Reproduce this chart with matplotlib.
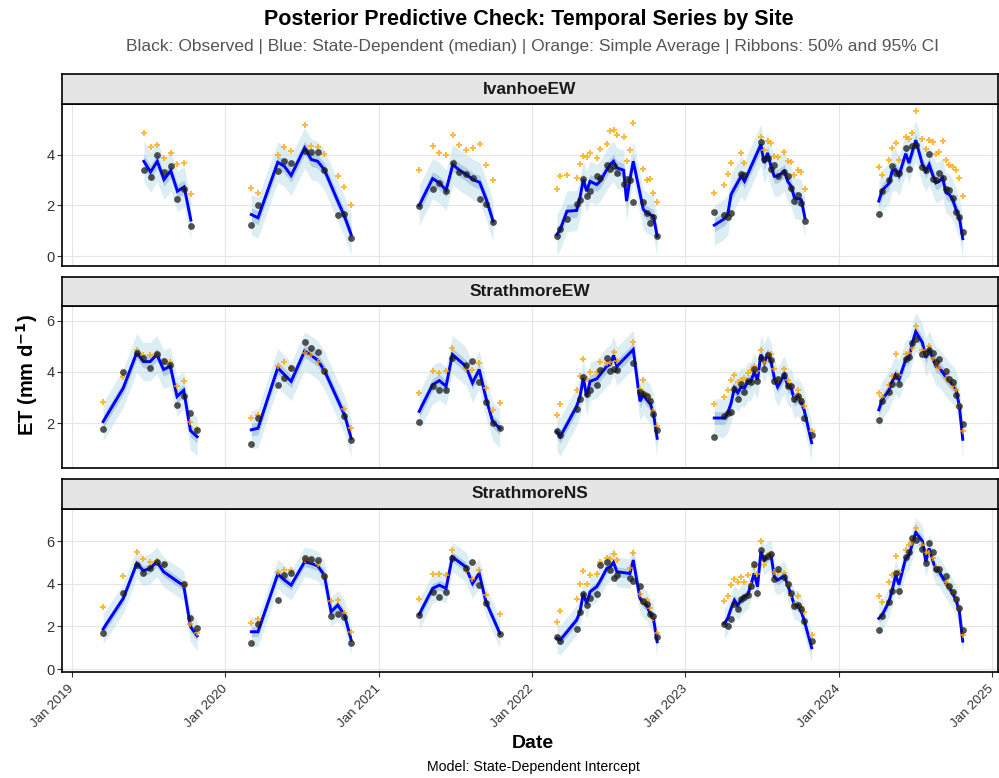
import matplotlib
matplotlib.use('Agg')
import matplotlib.pyplot as plt
import matplotlib.dates as mdates
import pandas as pd
import numpy as np

plt.rcParams['font.family'] = ['Liberation Sans', 'DejaVu Sans']

# ---------------- data ----------------
sites = ['IvanhoeEW', 'StrathmoreEW', 'StrathmoreNS']

ivanhoe_dates = [
    '2019-172', '2019-188', '2019-204', '2019-220', '2019-236', '2019-252', '2019-268', '2019-284',
    '2020-063', '2020-079', '2020-126', '2020-142', '2020-158', '2020-190', '2020-206', '2020-221',
    '2020-237', '2020-269', '2020-285', '2020-301',
    '2021-097', '2021-129', '2021-145', '2021-161', '2021-177', '2021-193', '2021-209', '2021-225',
    '2021-241', '2021-257', '2021-273',
    '2022-060', '2022-068', '2022-084', '2022-107', '2022-115', '2022-123', '2022-131', '2022-139',
    '2022-155', '2022-163', '2022-179', '2022-187', '2022-195', '2022-203', '2022-219', '2022-226',
    '2022-234', '2022-242', '2022-266', '2022-274', '2022-282', '2022-290', '2022-299',
    '2023-070', '2023-094', '2023-102', '2023-110', '2023-134', '2023-142', '2023-181', '2023-189',
    '2023-197', '2023-205', '2023-213', '2023-221', '2023-237', '2023-245', '2023-253', '2023-261',
    '2023-269', '2023-277', '2023-286',
    '2024-097', '2024-105', '2024-121', '2024-129', '2024-137', '2024-145', '2024-161', '2024-169',
    '2024-177', '2024-185', '2024-201', '2024-209', '2024-217', '2024-225', '2024-233', '2024-241',
    '2024-249', '2024-257', '2024-265', '2024-273', '2024-281', '2024-289', '2024-297']
ivanhoe_obs = [
    3.39, 3.11, 4.00, 3.33, 3.57, 2.26, 2.63, 1.17,
    1.21, 2.01, 3.36, 3.74, 3.69, 4.13, 4.11, 4.11, 3.40, 1.63, 1.65, 0.72,
    1.96, 2.63, 2.87, 2.55, 3.68, 3.31, 3.22, 3.10, 2.24, 2.04, 1.34,
    0.81, 1.05, 1.46, 2.05, 2.20, 3.03, 2.38, 2.57, 3.17, 3.09, 3.60, 3.44, 3.54, 3.27, 2.85, 3.06,
    2.99, 2.15, 2.15, 1.69, 1.31, 1.55, 0.79,
    1.73, 1.63, 1.54, 1.72, 3.22, 3.18, 4.52, 3.85, 3.86, 3.43, 3.61, 3.15, 3.33, 3.17, 2.67, 2.17,
    2.42, 2.10, 1.37,
    1.67, 2.56, 2.99, 3.56, 3.26, 3.26, 4.27, 3.43, 4.36, 4.38, 3.53, 3.40, 4.03, 3.05, 3.02, 3.26,
    3.07, 2.65, 2.60, 2.30, 1.75, 1.54, 0.94]
ivanhoe_median = [
    3.74, 3.32, 3.74, 3.02, 3.37, 2.56, 2.73, 1.42,
    1.64, 1.51, 3.70, 3.54, 3.18, 4.27, 3.81, 3.74, 3.41, 2.17, 1.57, 0.85,
    2.00, 3.06, 2.89, 2.60, 3.61, 3.39, 3.22, 3.02, 2.91, 2.23, 1.38,
    0.85, 1.05, 1.77, 1.80, 2.30, 3.02, 2.56, 2.95, 2.82, 2.95, 3.41, 3.61, 3.74, 3.48, 3.39, 2.17,
    3.02, 3.74, 1.84, 1.71, 1.64, 1.57, 0.79,
    1.22, 1.47, 1.64, 2.43, 3.15, 2.95, 4.40, 3.67, 4.07, 3.54, 3.15, 3.15, 3.35, 2.95, 2.76, 2.30,
    2.26, 2.23, 1.51,
    2.17, 2.60, 2.86, 3.37, 3.41, 3.18, 4.04, 3.67, 4.13, 4.57, 3.61, 3.35, 3.61, 3.22, 2.89, 2.95,
    3.09, 2.50, 2.43, 2.23, 1.84, 1.51, 0.69]
ivanhoe_simple = [
    4.87, 4.29, 4.40, 3.86, 4.07, 3.62, 3.69, 2.44,
    2.67, 2.47, 3.99, 4.29, 4.16, 5.17, 4.33, 4.29, 4.02, 3.15, 2.73, 2.00,
    3.40, 4.33, 4.06, 4.00, 4.78, 4.40, 4.19, 4.28, 4.42, 3.60, 2.99,
    2.64, 3.17, 3.20, 3.09, 3.62, 3.96, 3.90, 4.07, 3.86, 4.21, 4.42, 4.92, 4.96, 4.79, 4.69, 3.77,
    4.17, 5.26, 3.44, 3.02, 3.06, 2.50, 2.13,
    2.48, 2.81, 3.22, 3.67, 4.07, 3.67, 4.70, 4.20, 4.56, 4.46, 3.96, 3.91, 4.11, 3.74, 3.72, 3.21,
    3.39, 3.30, 2.65,
    3.50, 3.18, 3.81, 4.27, 4.46, 3.81, 4.69, 4.62, 4.86, 5.71, 4.63, 4.24, 4.59, 4.49, 4.03, 4.10,
    4.53, 3.81, 3.61, 3.50, 3.41, 3.07, 2.39]

strath_ew_dates = [
    '2019-075', '2019-123', '2019-155', '2019-171', '2019-187', '2019-203', '2019-219', '2019-235',
    '2019-251', '2019-267', '2019-283', '2019-299',
    '2020-063', '2020-079', '2020-126', '2020-142', '2020-158', '2020-190', '2020-206', '2020-221',
    '2020-237', '2020-285', '2020-301',
    '2021-097', '2021-129', '2021-145', '2021-161', '2021-176', '2021-208', '2021-224', '2021-240',
    '2021-256', '2021-272', '2021-289',
    '2022-060', '2022-068', '2022-107', '2022-115', '2022-123', '2022-131', '2022-139', '2022-155',
    '2022-163', '2022-179', '2022-187', '2022-195', '2022-203', '2022-242', '2022-258', '2022-266',
    '2022-274', '2022-282', '2022-290', '2022-299',
    '2023-070', '2023-094', '2023-102', '2023-110', '2023-118', '2023-126', '2023-134', '2023-142',
    '2023-150', '2023-157', '2023-165', '2023-173', '2023-181', '2023-189', '2023-197', '2023-205',
    '2023-213', '2023-221', '2023-237', '2023-245', '2023-253', '2023-261', '2023-269', '2023-276',
    '2023-284', '2023-302',
    '2024-097', '2024-105', '2024-121', '2024-129', '2024-137', '2024-145', '2024-161', '2024-169',
    '2024-177', '2024-185', '2024-201', '2024-209', '2024-217', '2024-225', '2024-233', '2024-241',
    '2024-257', '2024-265', '2024-273', '2024-281', '2024-289', '2024-297']
strath_ew_obs = [
    1.76, 4.00, 4.75, 4.55, 4.14, 4.71, 4.42, 4.25, 2.69, 3.04, 2.39, 1.74,
    1.18, 2.20, 3.49, 3.75, 4.17, 5.16, 4.95, 4.78, 4.02, 2.26, 1.35,
    2.05, 3.46, 3.29, 3.31, 4.55, 4.27, 4.42, 3.61, 2.81, 2.00, 1.82,
    1.71, 1.54, 2.57, 2.94, 3.79, 3.12, 3.31, 3.50, 4.08, 4.55, 4.02, 4.12, 4.06, 4.35, 3.20, 3.14,
    3.04, 2.87, 2.36, 1.74,
    1.44, 2.26, 2.39, 2.44, 3.33, 2.94, 3.54, 3.20, 3.66, 3.62, 4.12, 3.63, 4.55, 4.13, 4.67, 4.48,
    3.66, 3.73, 3.89, 3.46, 3.46, 2.94, 3.07, 2.87, 2.22, 1.54,
    2.14, 2.86, 3.23, 3.54, 3.84, 3.53, 4.52, 4.59, 5.12, 5.27, 4.68, 4.72, 4.87, 4.75, 4.38, 4.51,
    4.02, 3.73, 3.61, 3.11, 2.65, 1.97]
strath_ew_median = [
    2.06, 3.37, 4.75, 4.40, 4.40, 4.68, 4.09, 4.22, 3.04, 3.28, 1.71, 1.47,
    1.74, 1.80, 4.16, 3.89, 3.63, 4.81, 4.64, 4.46, 4.06, 2.33, 1.41,
    2.46, 3.50, 3.66, 3.44, 4.68, 4.22, 3.57, 4.09, 2.98, 2.06, 1.80,
    1.67, 1.47, 2.65, 3.04, 3.76, 3.04, 3.63, 3.73, 3.89, 4.22, 4.29, 4.64, 4.22, 4.87, 2.85, 3.11,
    2.91, 2.78, 2.39, 1.41,
    2.20, 2.20, 2.39, 2.78, 3.37, 3.18, 3.41, 3.37, 3.63, 3.63, 3.98, 3.70, 4.68, 4.35, 4.68, 4.42,
    3.76, 3.41, 3.89, 3.44, 3.37, 2.91, 3.04, 2.85, 2.52, 1.24,
    2.52, 2.91, 3.28, 3.63, 3.89, 3.70, 4.48, 4.55, 5.14, 5.57, 5.14, 4.55, 4.87, 4.55, 4.22, 4.16,
    3.80, 3.63, 3.50, 3.31, 2.65, 1.37]
strath_ew_simple = [
    2.81, 3.79, 4.85, 4.67, 4.65, 4.71, 4.44, 4.39, 3.44, 3.65, 2.04, 1.76,
    2.20, 2.33, 4.22, 4.38, 4.16, 4.75, 4.64, 4.38, 4.06, 2.56, 1.82,
    3.19, 4.02, 3.97, 4.02, 4.94, 4.12, 4.08, 4.35, 3.38, 2.52, 2.77,
    2.30, 2.75, 3.31, 3.85, 4.49, 3.73, 3.98, 4.01, 4.38, 4.36, 4.40, 4.77, 4.42, 5.18, 3.35, 3.67,
    3.10, 2.95, 2.46, 1.90,
    2.76, 3.03, 3.29, 3.70, 3.88, 3.59, 3.70, 3.76, 3.96, 4.09, 4.22, 4.02, 4.87, 4.40, 4.71, 4.68,
    4.13, 3.70, 4.13, 3.69, 3.50, 2.98, 3.31, 2.95, 2.68, 1.71,
    3.18, 3.01, 3.50, 3.83, 4.68, 3.89, 4.68, 4.75, 4.94, 5.79, 4.84, 4.75, 5.01, 4.55, 4.29, 4.16,
    3.76, 3.63, 3.44, 3.28, 2.68, 1.71]

strath_ns_dates = [
    '2019-075', '2019-123', '2019-155', '2019-171', '2019-187', '2019-203', '2019-219', '2019-267',
    '2019-283', '2019-299',
    '2020-063', '2020-079', '2020-126', '2020-142', '2020-158', '2020-190', '2020-206', '2020-221',
    '2020-237', '2020-253', '2020-269', '2020-285', '2020-301',
    '2021-097', '2021-129', '2021-145', '2021-161', '2021-176', '2021-208', '2021-224', '2021-240',
    '2021-256', '2021-289',
    '2022-060', '2022-068', '2022-107', '2022-115', '2022-123', '2022-131', '2022-139', '2022-155',
    '2022-163', '2022-179', '2022-187', '2022-195', '2022-203', '2022-234', '2022-242', '2022-258',
    '2022-266', '2022-274', '2022-282', '2022-290', '2022-299',
    '2023-094', '2023-102', '2023-110', '2023-118', '2023-126', '2023-134', '2023-142', '2023-150',
    '2023-157', '2023-165', '2023-173', '2023-181', '2023-189', '2023-197', '2023-205', '2023-213',
    '2023-221', '2023-237', '2023-245', '2023-253', '2023-261', '2023-269', '2023-276', '2023-284',
    '2023-302',
    '2024-097', '2024-105', '2024-121', '2024-129', '2024-137', '2024-145', '2024-161', '2024-169',
    '2024-177', '2024-185', '2024-201', '2024-209', '2024-217', '2024-225', '2024-233', '2024-241',
    '2024-257', '2024-265', '2024-273', '2024-281', '2024-289', '2024-297']
strath_ns_obs = [
    1.67, 3.55, 4.88, 4.52, 4.76, 5.04, 4.93, 3.99, 2.41, 1.91,
    1.20, 2.13, 3.25, 4.41, 4.51, 5.24, 5.16, 5.12, 4.37, 2.49, 2.58, 2.46, 1.20,
    2.54, 3.60, 3.38, 3.62, 5.23, 4.77, 5.02, 3.96, 3.08, 1.63,
    1.52, 1.31, 1.86, 2.68, 3.51, 3.00, 3.32, 3.51, 4.87, 5.01, 4.63, 4.26, 4.40, 4.26, 4.13, 3.88,
    3.21, 3.04, 2.58, 2.47, 1.52,
    2.10, 2.02, 2.33, 3.04, 2.80, 3.27, 3.40, 3.46, 3.90, 4.95, 3.58, 5.59, 5.20, 5.31, 5.41, 4.21,
    4.68, 4.34, 3.99, 3.55, 2.97, 3.00, 2.80, 2.28, 1.31,
    1.83, 2.49, 3.13, 3.68, 4.49, 3.68, 5.26, 5.51, 6.15, 6.07, 5.62, 4.96, 5.90, 5.48, 4.68, 4.68,
    4.37, 3.91, 3.63, 3.27, 2.88, 1.83]
strath_ns_median = [
    1.88, 3.32, 4.96, 4.62, 4.73, 5.04, 4.57, 3.91, 1.99, 1.56,
    1.75, 1.75, 4.46, 4.18, 3.94, 5.04, 4.96, 4.85, 4.41, 2.69, 3.00, 2.54, 1.36,
    2.57, 3.79, 3.94, 3.79, 5.27, 4.80, 4.02, 4.49, 3.16, 1.68,
    1.44, 1.36, 2.30, 2.69, 3.55, 3.08, 3.63, 3.87, 4.13, 4.73, 4.80, 5.01, 4.57, 4.49, 5.12, 3.32,
    3.08, 3.00, 2.61, 2.38, 1.28,
    2.14, 2.38, 2.85, 3.24, 3.00, 3.24, 3.40, 3.51, 3.94, 4.49, 3.87, 5.51, 5.12, 5.27, 5.38, 4.34,
    4.18, 4.38, 3.94, 3.47, 3.00, 3.00, 2.77, 2.30, 1.00,
    2.38, 2.54, 3.16, 3.71, 4.41, 3.97, 5.20, 5.35, 5.90, 6.42, 6.01, 5.04, 5.67, 5.12, 4.65, 4.57,
    4.02, 3.79, 3.55, 3.24, 2.69, 1.31]
strath_ns_simple = [
    2.90, 4.35, 5.48, 5.16, 5.04, 5.07, 4.88, 3.97, 2.10, 1.70,
    2.17, 2.35, 4.57, 4.65, 4.65, 5.12, 5.12, 4.93, 4.38, 3.21, 3.24, 2.61, 1.74,
    3.27, 4.46, 4.48, 4.43, 5.60, 4.62, 4.23, 4.65, 3.47, 2.58,
    2.22, 2.75, 3.29, 4.01, 4.60, 4.01, 4.41, 4.46, 5.02, 5.20, 5.15, 5.41, 5.12, 4.76, 5.43, 3.51,
    3.16, 3.24, 2.85, 2.38, 1.68,
    3.21, 3.41, 3.94, 4.21, 4.07, 4.32, 4.07, 4.40, 3.97, 4.80, 4.45, 6.02, 4.88, 5.35, 5.38, 4.57,
    4.57, 4.49, 3.99, 3.47, 3.00, 3.44, 2.92, 2.69, 1.60,
    3.41, 3.13, 4.07, 4.41, 5.31, 4.57, 5.59, 5.82, 5.98, 6.65, 5.82, 5.51, 5.43, 5.20, 4.80, 4.65,
    4.10, 3.87, 3.60, 3.30, 2.85, 1.60]

# credible-interval half widths per site (mm/d), read from ribbon extents
ci50_half = [0.27, 0.25, 0.23]
ci95_half = [0.80, 0.75, 0.70]

y_ticks = [[0, 2, 4], [2, 4, 6], [0, 2, 4, 6]]
x_tick_labels = ['Jan 2019', 'Jan 2020', 'Jan 2021', 'Jan 2022', 'Jan 2023', 'Jan 2024', 'Jan 2025']

site_series = [
    (ivanhoe_dates, ivanhoe_obs, ivanhoe_median, ivanhoe_simple),
    (strath_ew_dates, strath_ew_obs, strath_ew_median, strath_ew_simple),
    (strath_ns_dates, strath_ns_obs, strath_ns_median, strath_ns_simple),
]

# ---------------- layout ----------------
W, H = 999, 778
fig = plt.figure(figsize=(W / 100, H / 100), dpi=100)

def fx(px):
    return px / W

def fy(py):
    return 1 - py / H

left_px, right_px = 62, 998
panels_px = [(74, 104, 266), (277, 306, 468), (479, 509, 672)]
ylims = [(-0.39, 6.0), (0.25, 6.57), (-0.14, 7.52)]
xlim = (pd.Timestamp('2018-12-08'), pd.Timestamp('2025-01-15'))
tick_dates = [pd.Timestamp(s.replace('Jan ', '') + '-01-01') for s in x_tick_labels]

C95 = '#ADD8E6'
C50 = '#4682B4'
TXT = '#333333'

for i, site in enumerate(sites):
    strip_top, ptop, pbot = panels_px[i]
    ax = fig.add_axes([fx(left_px), fy(pbot), fx(right_px - left_px), (pbot - ptop) / H])
    sax = fig.add_axes([fx(left_px), fy(ptop), fx(right_px - left_px), (ptop - strip_top) / H])

    dates, obs, med, simple = site_series[i]
    df = pd.DataFrame({
        'date': pd.to_datetime(dates, format='%Y-%j'),
        'obs': obs, 'med': med, 'simple': simple,
    })
    df['season'] = df['date'].dt.year

    for _, g in df.groupby('season'):
        m = g['med'].to_numpy()
        ax.fill_between(g['date'], m - ci95_half[i], m + ci95_half[i],
                        color=C95, alpha=0.42, linewidth=0, zorder=2)
        ax.fill_between(g['date'], m - ci50_half[i], m + ci50_half[i],
                        color=C50, alpha=0.28, linewidth=0, zorder=3)
        ax.plot(g['date'], m, color='#0000FF', lw=2.1, zorder=4, solid_joinstyle='miter')
    ax.scatter(df['date'], df['simple'], marker='P', s=17, color='#FFA500',
               alpha=0.75, linewidths=0, zorder=5)
    ax.scatter(df['date'], df['obs'], marker='o', s=24, color='#1a1a1a',
               alpha=0.75, linewidths=0, zorder=6)

    ax.set_xlim(xlim)
    ax.set_ylim(ylims[i])
    ax.set_yticks(y_ticks[i])
    ax.set_xticks(tick_dates)
    ax.grid(True, color='#e6e6e6', lw=0.8, zorder=0)
    ax.set_axisbelow(True)
    ax.tick_params(axis='y', length=3.5, width=0.8, color=TXT, labelcolor=TXT, labelsize=10.5, pad=2)
    for sp in ax.spines.values():
        sp.set_color('black')
        sp.set_linewidth(1.2)
    if i < 2:
        ax.tick_params(axis='x', bottom=False, labelbottom=False)
    else:
        ax.set_xticklabels(x_tick_labels)
        ax.tick_params(axis='x', length=3.5, width=0.8, color=TXT, labelcolor=TXT, labelsize=9.6, pad=7)
        for lab in ax.get_xticklabels():
            lab.set_rotation(45)
            lab.set_rotation_mode('anchor')
            lab.set_ha('right')
            lab.set_va('center')

    sax.set_facecolor('#e5e5e5')
    sax.set_xticks([])
    sax.set_yticks([])
    for sp in sax.spines.values():
        sp.set_color('black')
        sp.set_linewidth(1.2)
    sax.text(0.5, 0.5, site, ha='center', va='center', fontsize=12.5,
             fontweight='bold', color='#1a1a1a', transform=sax.transAxes)

fig.text(fx(529), fy(19), 'Posterior Predictive Check: Temporal Series by Site',
         ha='center', va='center', fontsize=15.5, fontweight='bold', color='black')
fig.text(fx(533), fy(47),
         'Black: Observed | Blue: State-Dependent (median) | Orange: Simple Average | Ribbons: 50% and 95% CI',
         ha='center', va='center', fontsize=12.5, color='#555555')
fig.text(fx(27), fy(375), 'ET (mm d$^{\\mathbf{-1}}$)', rotation=90, ha='center', va='center',
         fontsize=14.5, fontweight='bold')
fig.text(fx(533), fy(743), 'Date', ha='center', va='center', fontsize=14, fontweight='bold')
fig.text(fx(533), fy(767), 'Model: State-Dependent Intercept', ha='center', va='center',
         fontsize=10.2, color='black')

fig.savefig('out.png', dpi=100)
